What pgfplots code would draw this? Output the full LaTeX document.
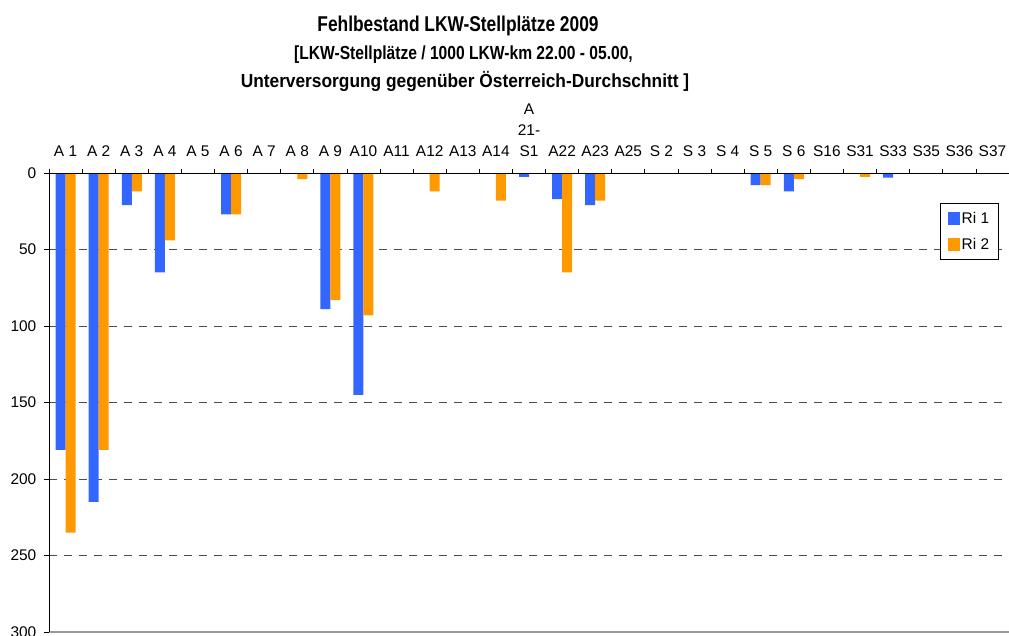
\documentclass[border=0pt]{standalone}
\usepackage{pgfplots}
\pgfplotsset{compat=1.18}
\usepackage{fontspec}
\setmainfont{Liberation Sans}
\newfontfamily\titleA[FakeStretch=0.81]{Liberation Sans}
\newfontfamily\titleB[FakeStretch=0.825]{Liberation Sans}
\newfontfamily\titleC[FakeStretch=0.915]{Liberation Sans}
\definecolor{riblue}{HTML}{3366FF}
\definecolor{riorange}{HTML}{FF9900}
\begin{document}
\begin{tikzpicture}
\begin{axis}[
  at={(49bp,4bp)}, anchor=south west,
  width=960bp, height=459bp, scale only axis,
  xmin=-0.5, xmax=28.5, ymin=0, ymax=300, y dir=reverse,
  enlargelimits=false, clip=false,
  ybar=0pt, bar width=10bp,
  axis line style={draw=none},
  xtick={-0.5,0.5,...,28.5},
  xticklabels={A 1,A 2,A 3,A 4,A 5,A 6,A 7,A 8,A 9,A10,A11,A12,A13,A14,{A\\21-\\S1},A22,A23,A25,S 2,S 3,S 4,S 5,S 6,S16,S31,S33,S35,S36,S37,{}},
  xticklabel pos=upper, xtick pos=upper,
  tick align=outside,
  major tick length=4.5bp,
  tick style={black, line width=0.8bp},
  xticklabel style={xshift=16.55bp, anchor=south, align=center, inner sep=0pt, text depth=0pt, yshift=12bp, font=\fontsize{15.5}{21}\selectfont},
  ytick={0,50,...,300},
  ytick pos=left,
  yticklabel style={anchor=east, inner sep=0pt, xshift=-8bp, font=\fontsize{15.5}{18}\selectfont},
  /pgf/number format/assume math mode=true,
  ymajorgrids,
  major grid style={black!70, line width=1bp, dash pattern=on 8bp off 7bp},
  legend style={at={(0.9896,0.9346)}, anchor=north east, draw=black, line width=0.8bp,
    font=\fontsize{15.5}{18}\selectfont, inner xsep=7.5bp, inner ysep=6.5bp, row sep=10bp,
    cells={anchor=west}, /tikz/every even column/.append style={column sep=1bp}},
  legend image code/.code={\fill[#1] (0bp,-6.5bp) rectangle (12bp,6.5bp);},
]
\addplot[fill=riblue, draw=none] coordinates {
  (0,181) (1,215) (2,21) (3,65) (5,27) (8,89) (9,145) (14,2.5) (15,17) (16,21) (21,8) (22,12) (25,3)
};
\addplot[fill=riorange, draw=none] coordinates {
  (0,235) (1,181) (2,12) (3,44) (5,27) (7,4) (8,83) (9,93) (11,12) (13,18) (15,65) (16,18) (21,8) (22,4) (24,2.5)
};
\legend{Ri 1, Ri 2}
\draw[black!40, line width=1.2bp] (axis cs:-0.5,300) -- (axis cs:28.5,300);
\draw[black, line width=1bp] (axis cs:-0.5,0) -- (axis cs:28.5,0);
\draw[black, line width=1bp] (axis cs:-0.5,0) -- (axis cs:-0.5,300);
\end{axis}
\node[anchor=base, font=\titleA\bfseries\fontsize{21.5}{25}\selectfont, inner sep=0pt] at (458bp,604.3bp) {Fehlbestand LKW-Stellplätze 2009};
\node[anchor=base, font=\titleB\bfseries\fontsize{19}{22}\selectfont, inner sep=0pt] at (463.5bp,576bp) {[LKW-Stellplätze / 1000 LKW-km 22.00 - 05.00,};
\node[anchor=base, font=\titleC\bfseries\fontsize{19}{22}\selectfont, inner sep=0pt] at (465bp,548bp) {Unterversorgung gegenüber Österreich-Durchschnitt ]};
\pgfresetboundingbox
\path[use as bounding box] (0,0) rectangle (1009bp,636bp);
\end{tikzpicture}
\end{document}
